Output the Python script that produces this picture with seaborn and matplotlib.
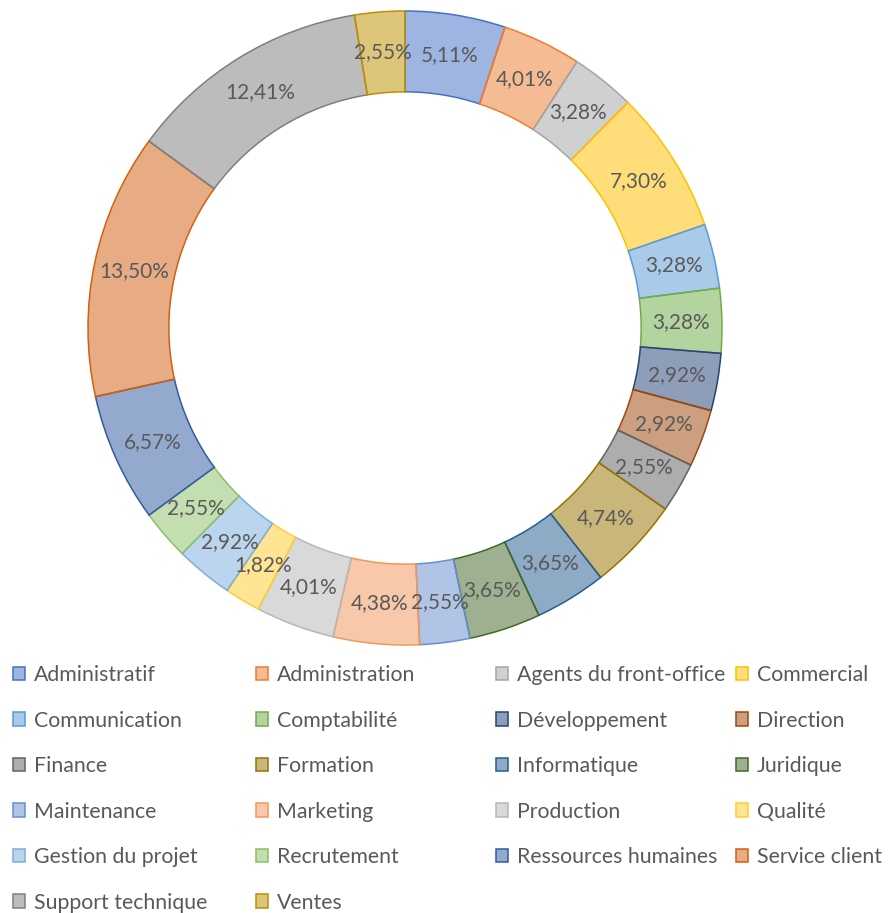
import matplotlib
matplotlib.use("Agg")
import matplotlib.pyplot as plt
import seaborn as sns

# departments, clockwise from 12 o'clock
departments = ['Administratif', 'Administration', 'Agents du front-office', 'Commercial',
               'Communication', 'Comptabilité', 'Développement', 'Direction',
               'Finance', 'Formation', 'Informatique', 'Juridique',
               'Maintenance', 'Marketing', 'Production', 'Qualité',
               'Gestion du projet', 'Recrutement', 'Ressources humaines', 'Service client',
               'Support technique', 'Ventes']
shares = [5.11, 4.01, 3.28, 7.30, 3.28, 3.28, 2.92, 2.92, 2.55, 4.74, 3.65,
          3.65, 2.55, 4.38, 4.01, 1.82, 2.92, 2.55, 6.57, 13.50, 12.41, 2.55]
edge_colors = ['#4472C4', '#ED7D31', '#A5A5A5', '#FFC000', '#5B9BD5', '#70AD47',
               '#264478', '#9E480E', '#636363', '#997300', '#255E91', '#43682B',
               '#698ED0', '#F1975A', '#B7B7B7', '#FFCD33', '#7CAFDD', '#8CC168',
               '#335AA1', '#D26012', '#7F7F7F', '#BF9000']

sns.set_theme(style="white")
plt.rcParams['font.family'] = ['Lato', 'DejaVu Sans']
text_grey = '#595959'

fig = plt.figure(figsize=(8.88, 9.13), dpi=100)
ax = fig.add_axes([88 / 888, 1 - 645 / 913, 634 / 888, 634 / 913])

labels = [f"{v:.2f}".replace('.', ',') + '%' for v in shares]
wedges, texts = ax.pie(shares, labels=labels, colors=edge_colors,
                       startangle=90, counterclock=False,
                       labeldistance=0.872, radius=1.0,
                       wedgeprops=dict(width=0.255, linewidth=1.1))
for w, c in zip(wedges, edge_colors):
    r, g, b = matplotlib.colors.to_rgb(c)
    w.set_facecolor((r, g, b, 0.52))
    w.set_edgecolor(c)
for t in texts:
    t.set_ha('center')
    t.set_va('center')
    t.set_color(text_grey)
    t.set_fontsize(15)
ax.set_xlim(-1, 1)
ax.set_ylim(-1, 1)
ax.set_aspect('equal')
ax.axis('off')

# legend: 4 columns filled row by row
col_x = [13, 256, 496, 736]
for col in range(4):
    idx = list(range(col, len(departments), 4))
    fig.legend([wedges[i] for i in idx], [departments[i] for i in idx],
               loc='upper left', bbox_to_anchor=(col_x[col] / 888, 1 - 665 / 913),
               frameon=False, fontsize=15.3, labelcolor=text_grey,
               handlelength=0.57, handleheight=0.57, handletextpad=0.4,
               labelspacing=1.2, borderpad=0, borderaxespad=0)

fig.savefig('out.png', dpi=100, facecolor='white')
